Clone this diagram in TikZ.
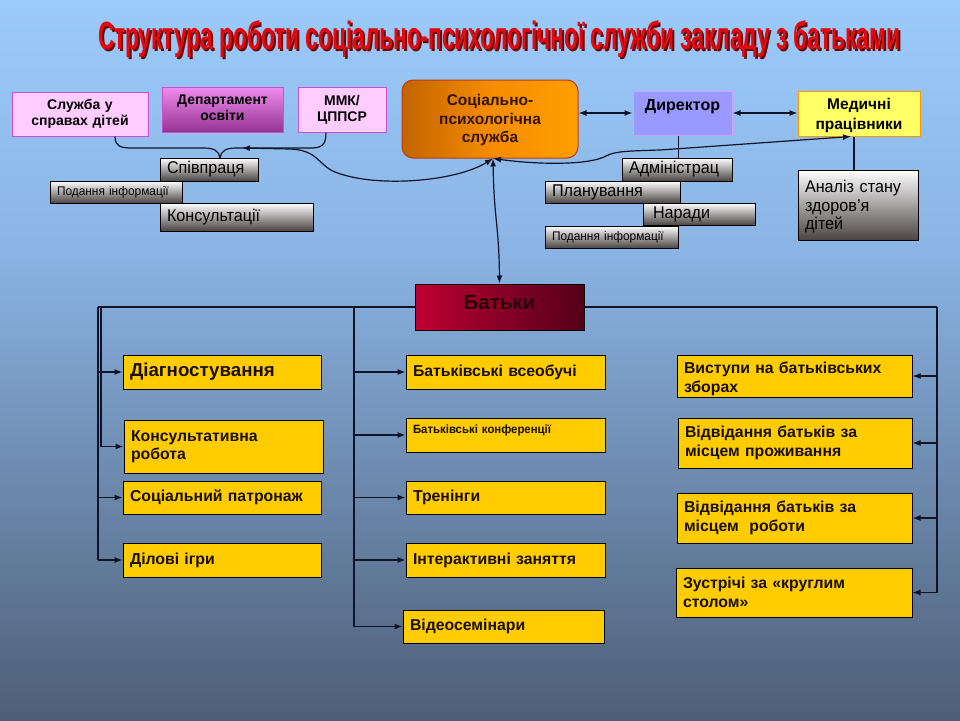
\documentclass[tikz,border=0pt]{standalone}
\usepackage{fontspec}
\usepackage{graphicx}
\setmainfont{Liberation Sans}
\newfontfamily\narrowfont[FakeStretch=0.95]{Liberation Sans}
\newfontfamily\titlefont{Liberation Sans}
\usetikzlibrary{arrows.meta,calc}
\definecolor{bgtop}{RGB}{155,203,250}
\definecolor{bgmid}{RGB}{138,180,228}
\definecolor{bgbot}{RGB}{78,94,118}
\definecolor{lineclr}{RGB}{15,20,40}
\definecolor{pinkfill}{RGB}{255,204,255}
\definecolor{pinkbd}{RGB}{204,80,204}
\definecolor{deptop}{RGB}{240,140,240}
\definecolor{depbot}{RGB}{150,50,145}
\definecolor{spsdark}{RGB}{195,100,0}
\definecolor{spsmid}{RGB}{245,140,0}
\definecolor{spsor}{RGB}{255,158,0}
\definecolor{spsbd}{RGB}{190,60,20}
\definecolor{spstext}{RGB}{50,20,0}
\definecolor{dirfill}{RGB}{153,153,255}
\definecolor{dirbd}{RGB}{210,160,255}
\definecolor{medfill}{RGB}{255,255,102}
\definecolor{medbd}{RGB}{255,153,0}
\definecolor{grayend}{RGB}{75,68,68}
\definecolor{yel}{RGB}{255,204,0}
\definecolor{txtdark}{RGB}{25,15,0}
\definecolor{batL}{RGB}{190,0,50}
\definecolor{batR}{RGB}{85,0,25}
\definecolor{battext}{RGB}{40,0,10}
\definecolor{titlered}{RGB}{225,10,15}
\definecolor{titleshadow}{RGB}{110,0,0}
\pgfdeclareverticalshading{bgshade}{100bp}{color(0bp)=(bgbot); color(25bp)=(bgbot); color(57.6bp)=(bgmid); color(75bp)=(bgtop); color(100bp)=(bgtop)}
% #1 box style, #2 name, #3 text style, #4-#7 corners (px), #8 text offset down (px), #9 text
\newcommand\bx[9]{%
  \pgfmathsetmacro\bxw{#6-#4}\pgfmathsetmacro\bxh{#7-#5}%
  \pgfmathsetmacro\bxcx{(#4+#6)/2}\pgfmathsetmacro\bxcy{(#5+#7)/2}%
  \pgfmathsetmacro\bxty{(#5+#7)/2+#8}%
  \pgfmathsetmacro\bxtw{#6-#4-14}%
  \node[#1, minimum width=\bxw pt, minimum height=\bxh pt, inner sep=0pt] (#2) at (\bxcx,\bxcy) {};
  \node[#3, text width=\bxtw pt, inner sep=0pt] (#2-t) at (\bxcx,\bxty) {#9};}
\newcommand\titletext{Структура роботи соціально-психологічної служби закладу з батьками}
\newcommand\titlebox{\titlefont\bfseries\resizebox*{802pt}{37pt}{\titletext}}
\begin{document}
\begin{tikzpicture}[x=1pt,y=-1pt,
  ln/.style={draw=lineclr, line width=1.2pt},
  arr/.style={ln, -{Latex[length=8pt,width=6pt]}},
  dbl/.style={ln, {Latex[length=8pt,width=6pt]}-{Latex[length=8pt,width=6pt]}},
  pinkbox/.style={draw=pinkbd, fill=pinkfill, line width=1pt},
  pinktxt/.style={text=black, font=\bfseries\fontsize{14}{16}\selectfont, align=center},
  graybox/.style={draw=black, line width=0.8pt, top color=white, bottom color=grayend},
  graytxt/.style={text=black, font=\narrowfont\fontsize{17}{18.5}\selectfont, align=left},
  smallgraytxt/.style={text=black, font=\narrowfont\fontsize{12.5}{14}\selectfont, align=left},
  yelbox/.style={draw=black, line width=1pt, fill=yel},
  yeltxt/.style={text=txtdark, font=\bfseries\fontsize{15.8}{18.5}\selectfont, align=left}
]
\useasboundingbox (0,0) rectangle (960,720);
\shade[shading=bgshade] (0,0) rectangle (960,720);
% title with shadow, one node
\node[inner sep=0pt] (title) at (499,40) {\makebox[0pt][l]{\hspace*{2pt}\raisebox{-2pt}{\textcolor{titleshadow}{\titlebox}}}\textcolor{titlered}{\titlebox}};
% top row
\bx{pinkbox}{sl}{pinktxt}{12}{92}{148}{136}{0}{Служба у\\справах дітей}
\bx{pinkbox, top color=deptop, bottom color=depbot}{dep}{pinktxt}{162}{87}{283}{132}{-2}{Департамент\\освіти}
\bx{pinkbox}{mmk}{pinktxt}{298}{87}{386}{132}{0}{ММК/\\ЦППСР}
\bx{draw=spsbd, line width=1pt, rounded corners=11pt, left color=spsdark, right color=spsor, middle color=spsmid}{sps}{text=spstext, font=\bfseries\fontsize{15.5}{18.5}\selectfont, align=center}{402}{80}{578}{158}{1}{Соціально-\\психологічна\\служба}
\bx{draw=dirbd, fill=dirfill, line width=1pt}{dir}{pinktxt, font=\bfseries\fontsize{16}{18}\selectfont}{633}{91}{732}{135}{-6}{Директор}
\bx{draw=medbd, fill=medfill, line width=1pt}{med}{pinktxt, font=\bfseries\fontsize{15.5}{19.5}\selectfont}{798}{91}{920}{136}{2}{Медичні\\працівники}
% gray boxes left
\bx{graybox}{spiv}{graytxt}{160}{158}{258}{181}{0}{Співпраця}
\bx{graybox}{pod1}{smallgraytxt}{50}{181}{182}{203}{0}{Подання інформації}
\bx{graybox}{kons}{graytxt}{160}{203}{313}{231}{0}{Консультації}
% gray boxes right
\bx{graybox}{adm}{graytxt}{622}{158}{732}{181}{0}{Адміністрац}
\bx{graybox}{plan}{graytxt}{545}{181}{680}{203}{0}{Планування}
\bx{graybox}{nar}{graytxt}{643}{203}{755}{225}{0}{\hspace*{3pt}Наради}
\bx{graybox}{pod2}{smallgraytxt}{545}{226}{678}{248}{0}{Подання інформації}
\bx{graybox}{an}{graytxt}{798}{170}{918}{240}{2}{Аналіз стану\\здоров’я\\дітей}
% connectors top
\draw[dbl] (sps.east |- dir.west) -- (dir.west);
\draw[dbl] (dir.east) -- (dir.east -| med.west);
\draw[ln] ([xshift=-4pt]dir.south) -- ([xshift=-4pt]dir.south |- adm.north);
\draw[ln] ([xshift=-5pt]med.south) -- ([xshift=-5pt]med.south |- an.north);
\coordinate (bj) at (242,148);
\draw[ln] ([xshift=35pt]sl.south) .. controls (115,146) and (120,148) .. (132,148) -- (204,148) .. controls (214,148) and (219,151) .. ([xshift=11pt]spiv.north) .. controls (221,151) and (226,148) .. (236,148) -- (310,148) .. controls (321,148) and (326,146) .. ([xshift=-16pt]mmk.south);
\draw[dbl] ([xshift=3pt]sps.south) .. controls (455,182) and (375,188) .. (335,172) .. controls (318,165) and (318,150) .. (290,149) -- (bj);
\draw[dbl] ([xshift=3pt]sps.south) .. controls (540,165) and (590,165) .. (606,156) .. controls (615,151) and (630,151) .. (660,150) -- ([xshift=-8pt]med.south);
% parents
\coordinate (L) at (98,307);
\coordinate (L2) at (101,307);
\coordinate (M) at (354,307);
\coordinate (R) at (937,307);
\draw[ln] (L) -- (R);
\bx{draw=black, line width=1pt, left color=batL, right color=batR}{batky}{text=battext, font=\bfseries\fontsize{20.5}{22}\selectfont, align=center}{415}{284}{584}{330}{-4}{Батьки}
\draw[dbl] ([xshift=3pt]sps.south) .. controls (494,220) and (499,225) .. (batky.north);
% left column
\bx{yelbox}{diag}{yeltxt, font=\bfseries\fontsize{18.7}{20}\selectfont}{123}{355}{321}{389}{0}{Діагностування}
\bx{yelbox}{konsr}{yeltxt}{124}{420}{323}{473}{0}{Консультативна\\робота}
\bx{yelbox}{sots}{yeltxt}{123}{481}{321}{514}{0}{Соціальний патронаж}
\bx{yelbox}{dil}{yeltxt}{123}{543}{321}{577}{0}{Ділові ігри}
% middle column
\bx{yelbox}{bvs}{yeltxt}{406}{355}{605}{389}{0}{Батьківські всеобучі}
\bx{yelbox}{bkonf}{yeltxt, font=\narrowfont\bfseries\fontsize{12}{14}\selectfont}{406}{418}{605}{452}{-5}{Батьківські конференції}
\bx{yelbox}{tren}{yeltxt}{406}{481}{605}{514}{0}{Тренінги}
\bx{yelbox}{inter}{yeltxt}{406}{543}{605}{577}{0}{Інтерактивні заняття}
\bx{yelbox}{video}{yeltxt}{403}{610}{604}{643}{0}{Відеосемінари}
% right column
\bx{yelbox}{vyst}{yeltxt}{677}{355}{912}{397}{3}{Виступи на батьківських\\зборах}
\bx{yelbox}{vidp}{yeltxt}{678}{418}{912}{468}{0}{Відвідання батьків за\\місцем проживання}
\bx{yelbox}{vidr}{yeltxt}{677}{493}{912}{543}{0}{Відвідання батьків за\\місцем\ \ роботи}
\bx{yelbox}{zust}{yeltxt}{676}{568}{912}{617}{0}{Зустрічі за «круглим\\столом»}
% branch lines
\draw[ln] (L) -- (L |- dil.west);
\draw[ln] (L2) -- (L2 |- konsr.west);
\draw[arr] (L |- diag.west) -- (diag.west);
\draw[arr] (L2 |- konsr.west) -- (konsr.west);
\draw[arr] (L |- sots.west) -- (sots.west);
\draw[arr] (L |- dil.west) -- (dil.west);
\draw[ln] (M) -- (M |- video.west);
\draw[arr] (M |- bvs.west) -- (bvs.west);
\draw[arr] (M |- bkonf.west) -- (bkonf.west);
\draw[arr] (M |- tren.west) -- (tren.west);
\draw[arr] (M |- inter.west) -- (inter.west);
\draw[arr] (M |- video.west) -- (video.west);
\draw[ln] (R) -- (R |- zust.east);
\draw[arr] (R |- vyst.east) -- (vyst.east);
\draw[arr] (R |- vidp.east) -- (vidp.east);
\draw[arr] (R |- vidr.east) -- (vidr.east);
\draw[arr] (R |- zust.east) -- (zust.east);
\end{tikzpicture}
\end{document}
